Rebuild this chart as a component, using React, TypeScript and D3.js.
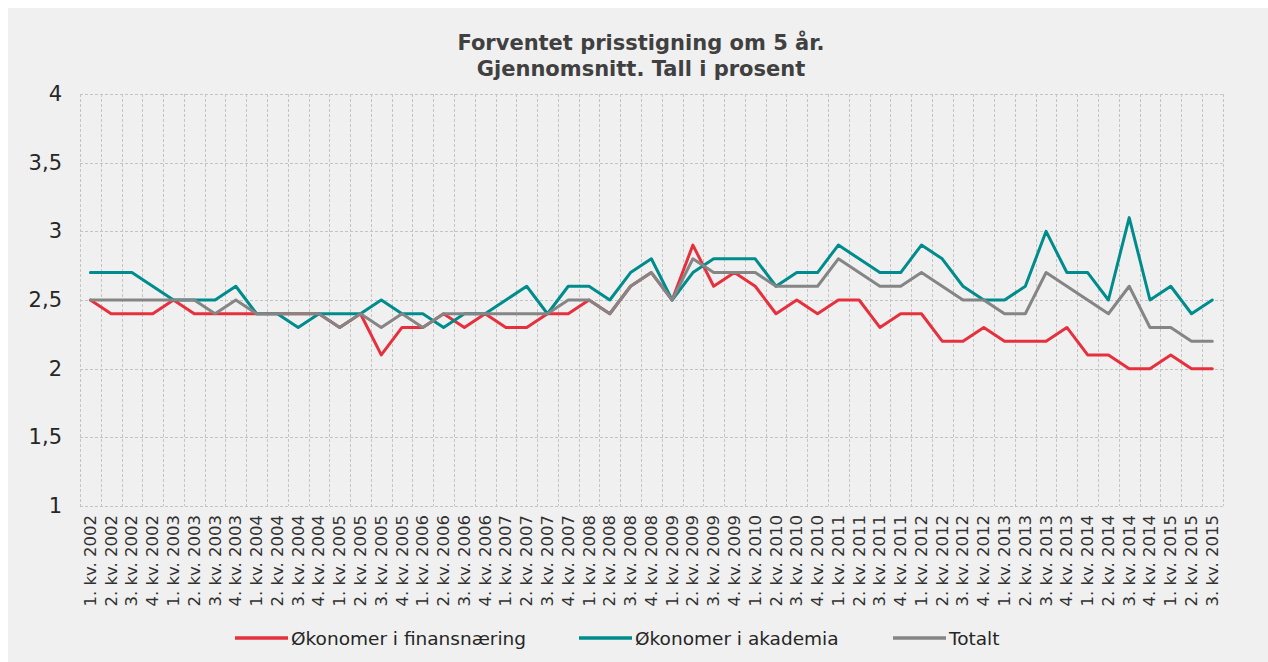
import * as React from "react";
import * as d3 from "d3";

const YEARS = [2002, 2003, 2004, 2005, 2006, 2007, 2008, 2009, 2010, 2011, 2012, 2013, 2014, 2015];
const QUARTERS = ["1. kv.", "2. kv.", "3. kv.", "4. kv."];
const PERIODS = YEARS.flatMap((yr) => QUARTERS.map((q) => `${q} ${yr}`)).slice(0, 55);

// Økonomer i finansnæring
const FINANS = [
  2.5, 2.4, 2.4, 2.4, 2.5, 2.4, 2.4, 2.4, 2.4, 2.4, 2.4, 2.4, 2.3, 2.4,
  2.1, 2.3, 2.3, 2.4, 2.3, 2.4, 2.3, 2.3, 2.4, 2.4, 2.5, 2.4, 2.6, 2.7,
  2.5, 2.9, 2.6, 2.7, 2.6, 2.4, 2.5, 2.4, 2.5, 2.5, 2.3, 2.4, 2.4, 2.2,
  2.2, 2.3, 2.2, 2.2, 2.2, 2.3, 2.1, 2.1, 2.0, 2.0, 2.1, 2.0, 2.0,
];

// Økonomer i akademia
const AKADEMIA = [
  2.7, 2.7, 2.7, 2.6, 2.5, 2.5, 2.5, 2.6, 2.4, 2.4, 2.3, 2.4, 2.4, 2.4,
  2.5, 2.4, 2.4, 2.3, 2.4, 2.4, 2.5, 2.6, 2.4, 2.6, 2.6, 2.5, 2.7, 2.8,
  2.5, 2.7, 2.8, 2.8, 2.8, 2.6, 2.7, 2.7, 2.9, 2.8, 2.7, 2.7, 2.9, 2.8,
  2.6, 2.5, 2.5, 2.6, 3.0, 2.7, 2.7, 2.5, 3.1, 2.5, 2.6, 2.4, 2.5,
];

// Totalt
const TOTALT = [
  2.5, 2.5, 2.5, 2.5, 2.5, 2.5, 2.4, 2.5, 2.4, 2.4, 2.4, 2.4, 2.3, 2.4,
  2.3, 2.4, 2.3, 2.4, 2.4, 2.4, 2.4, 2.4, 2.4, 2.5, 2.5, 2.4, 2.6, 2.7,
  2.5, 2.8, 2.7, 2.7, 2.7, 2.6, 2.6, 2.6, 2.8, 2.7, 2.6, 2.6, 2.7, 2.6,
  2.5, 2.5, 2.4, 2.4, 2.7, 2.6, 2.5, 2.4, 2.6, 2.3, 2.3, 2.2, 2.2,
];

const Y_TICKS = [1, 1.5, 2, 2.5, 3, 3.5, 4];

const SERIES = [
  { name: "Økonomer i finansnæring", values: FINANS, color: "#e6303d" },
  { name: "Økonomer i akademia", values: AKADEMIA, color: "#008c8c" },
  { name: "Totalt", values: TOTALT, color: "#858585" },
];

const FONT = "'DejaVu Sans', Verdana, sans-serif";

export default function App() {
  const width = 1268;
  const height = 662;
  const left = 80;
  const right = 1222.7;
  const top = 94;
  const bottom = 506;

  const x = d3.scaleBand<string>().domain(PERIODS).range([left, right]).padding(0);
  const y = d3.scaleLinear().domain([1, 4]).range([bottom, top]);
  const bw = x.bandwidth();

  const line = d3
    .line<number>()
    .x((_, i) => (x(PERIODS[i]) ?? 0) + bw / 2)
    .y((d) => y(d));

  const gridColor = "#c4c4c4";
  const vLines = [...PERIODS.map((p) => x(p) ?? 0), right];

  const legendX = [235, 579, 893];

  return (
    <svg
      width={width}
      height={height}
      style={{ position: "absolute", left: 0, top: 0, display: "block" }}
    >
      <rect x={0} y={0} width={width} height={height} fill="#ffffff" />
      <rect x={8} y={8} width={width - 8} height={height - 8} fill="#f0f0f0" />

      <text
        x={641}
        y={50}
        textAnchor="middle"
        fontFamily={FONT}
        fontWeight="bold"
        fontSize={21}
        fill="#404040"
      >
        <tspan x={641}>Forventet prisstigning om 5 år.</tspan>
        <tspan x={641} dy={26}>Gjennomsnitt. Tall i prosent</tspan>
      </text>

      {/* grid */}
      {Y_TICKS.map((t) => (
        <line
          key={`h${t}`}
          x1={left}
          x2={right}
          y1={Math.round(y(t)) + 0.5}
          y2={Math.round(y(t)) + 0.5}
          stroke={gridColor}
          strokeDasharray="3 2"
        />
      ))}
      {vLines.map((vx, i) => (
        <line
          key={`v${i}`}
          x1={Math.round(vx) + 0.5}
          x2={Math.round(vx) + 0.5}
          y1={top}
          y2={bottom}
          stroke={gridColor}
          strokeDasharray="3 2"
        />
      ))}

      {/* y labels */}
      {Y_TICKS.map((t) => (
        <text
          key={`yl${t}`}
          x={62}
          y={y(t)}
          dominantBaseline="central"
          textAnchor="end"
          fontFamily={FONT}
          fontSize={21}
          fill="#262626"
        >
          {String(t).replace(".", ",")}
        </text>
      ))}

      {/* x labels */}
      {PERIODS.map((p) => (
        <text
          key={p}
          transform={`translate(${(x(p) ?? 0) + bw / 2},${bottom + 9}) rotate(-90)`}
          textAnchor="end"
          dominantBaseline="central"
          fontFamily={FONT}
          fontSize={16.5}
          fill="#303030"
        >
          {p}
        </text>
      ))}

      {/* series */}
      {SERIES.map((s) => (
        <path
          key={s.name}
          d={line(s.values) ?? undefined}
          fill="none"
          stroke={s.color}
          strokeWidth={3}
          strokeLinejoin="round"
          strokeLinecap="round"
        />
      ))}

      {/* legend */}
      {SERIES.map((s, i) => (
        <g key={`lg${s.name}`}>
          <line
            x1={legendX[i]}
            x2={legendX[i] + 53}
            y1={638}
            y2={638}
            stroke={s.color}
            strokeWidth={3.5}
          />
          <text
            x={legendX[i] + 56}
            y={638}
            dominantBaseline="central"
            fontFamily={FONT}
            fontSize={18.5}
            fill="#262626"
          >
            {s.name}
          </text>
        </g>
      ))}
    </svg>
  );
}
